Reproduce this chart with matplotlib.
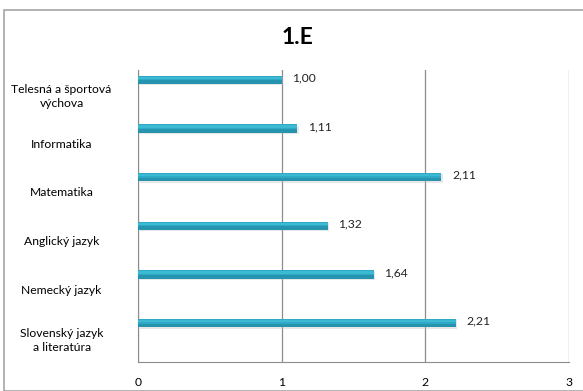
import matplotlib
matplotlib.use("Agg")
import matplotlib.pyplot as plt
from matplotlib.patches import Rectangle

categories = ["Slovenský jazyk\na literatúra", "Nemecký jazyk", "Anglický jazyk",
              "Matematika", "Informatika", "Telesná a športová\nvýchova"]
values = [2.21, 1.64, 1.32, 2.11, 1.11, 1.00]
xticks = [0, 1, 2, 3]
title = "1.E"

plt.rcParams['font.family'] = ['Lato', 'DejaVu Sans']

W, H = 583, 391
fig = plt.figure(figsize=(W / 100, H / 100), dpi=100)
fig.patches.append(Rectangle((4 / W, 0), (W + 10) / W, (H - 10) / H, transform=fig.transFigure,
                             fill=False, edgecolor="#A6A6A6", linewidth=1.2, clip_on=False))

left, right, top, bottom = 138, 569, 70, 362
ax = fig.add_axes([left / W, 1 - bottom / H, (right - left) / W, (bottom - top) / H])

y = list(range(len(categories)))
off = 0.30
bh = 0.17
ybar = [v + off for v in y]
# shadow
ax.barh([v - 0.03 for v in ybar], values, height=bh, color="#BBBBBB", alpha=0.35, zorder=2, left=0.012)
ax.barh(ybar, values, height=bh, color="#2EA9C6", zorder=3)
ax.barh([v - bh * 0.28 for v in ybar], values, height=bh * 0.44, color="#2694AE", zorder=3)
ax.barh([v + bh * 0.22 for v in ybar], values, height=bh * 0.3, color="#3DB9D3", zorder=3)

for yy, v in zip(ybar, values):
    ax.text(v + 0.075, yy + 0.04, f"{v:.2f}".replace(".", ","), fontsize=8.7, va="center", ha="left",
            color="#222222", zorder=4)

ax.set_xlim(0, 3)
ax.set_ylim(-0.5, len(categories) - 0.5)
ax.set_xticks(xticks)
ax.set_xticklabels([str(t) for t in xticks], fontsize=8.7)
ax.set_yticks(y)
ax.set_yticklabels(categories, fontsize=8.7, ha="center", linespacing=1.35)
ax.tick_params(axis="y", length=0, pad=55)
ax.tick_params(axis="x", length=0, pad=11)
ax.grid(axis="x", color="#8C8C8C", linewidth=0.9, zorder=0)
ax.set_axisbelow(True)
for s in ["top", "right"]:
    ax.spines[s].set_visible(False)
ax.spines["left"].set_color("#8C8C8C")
ax.spines["bottom"].set_color("#8C8C8C")

fig.text(297.5 / W, 1 - 38 / H, title, ha="center", va="center", fontsize=16.5, fontweight="bold")

fig.savefig("out.png", dpi=100)
